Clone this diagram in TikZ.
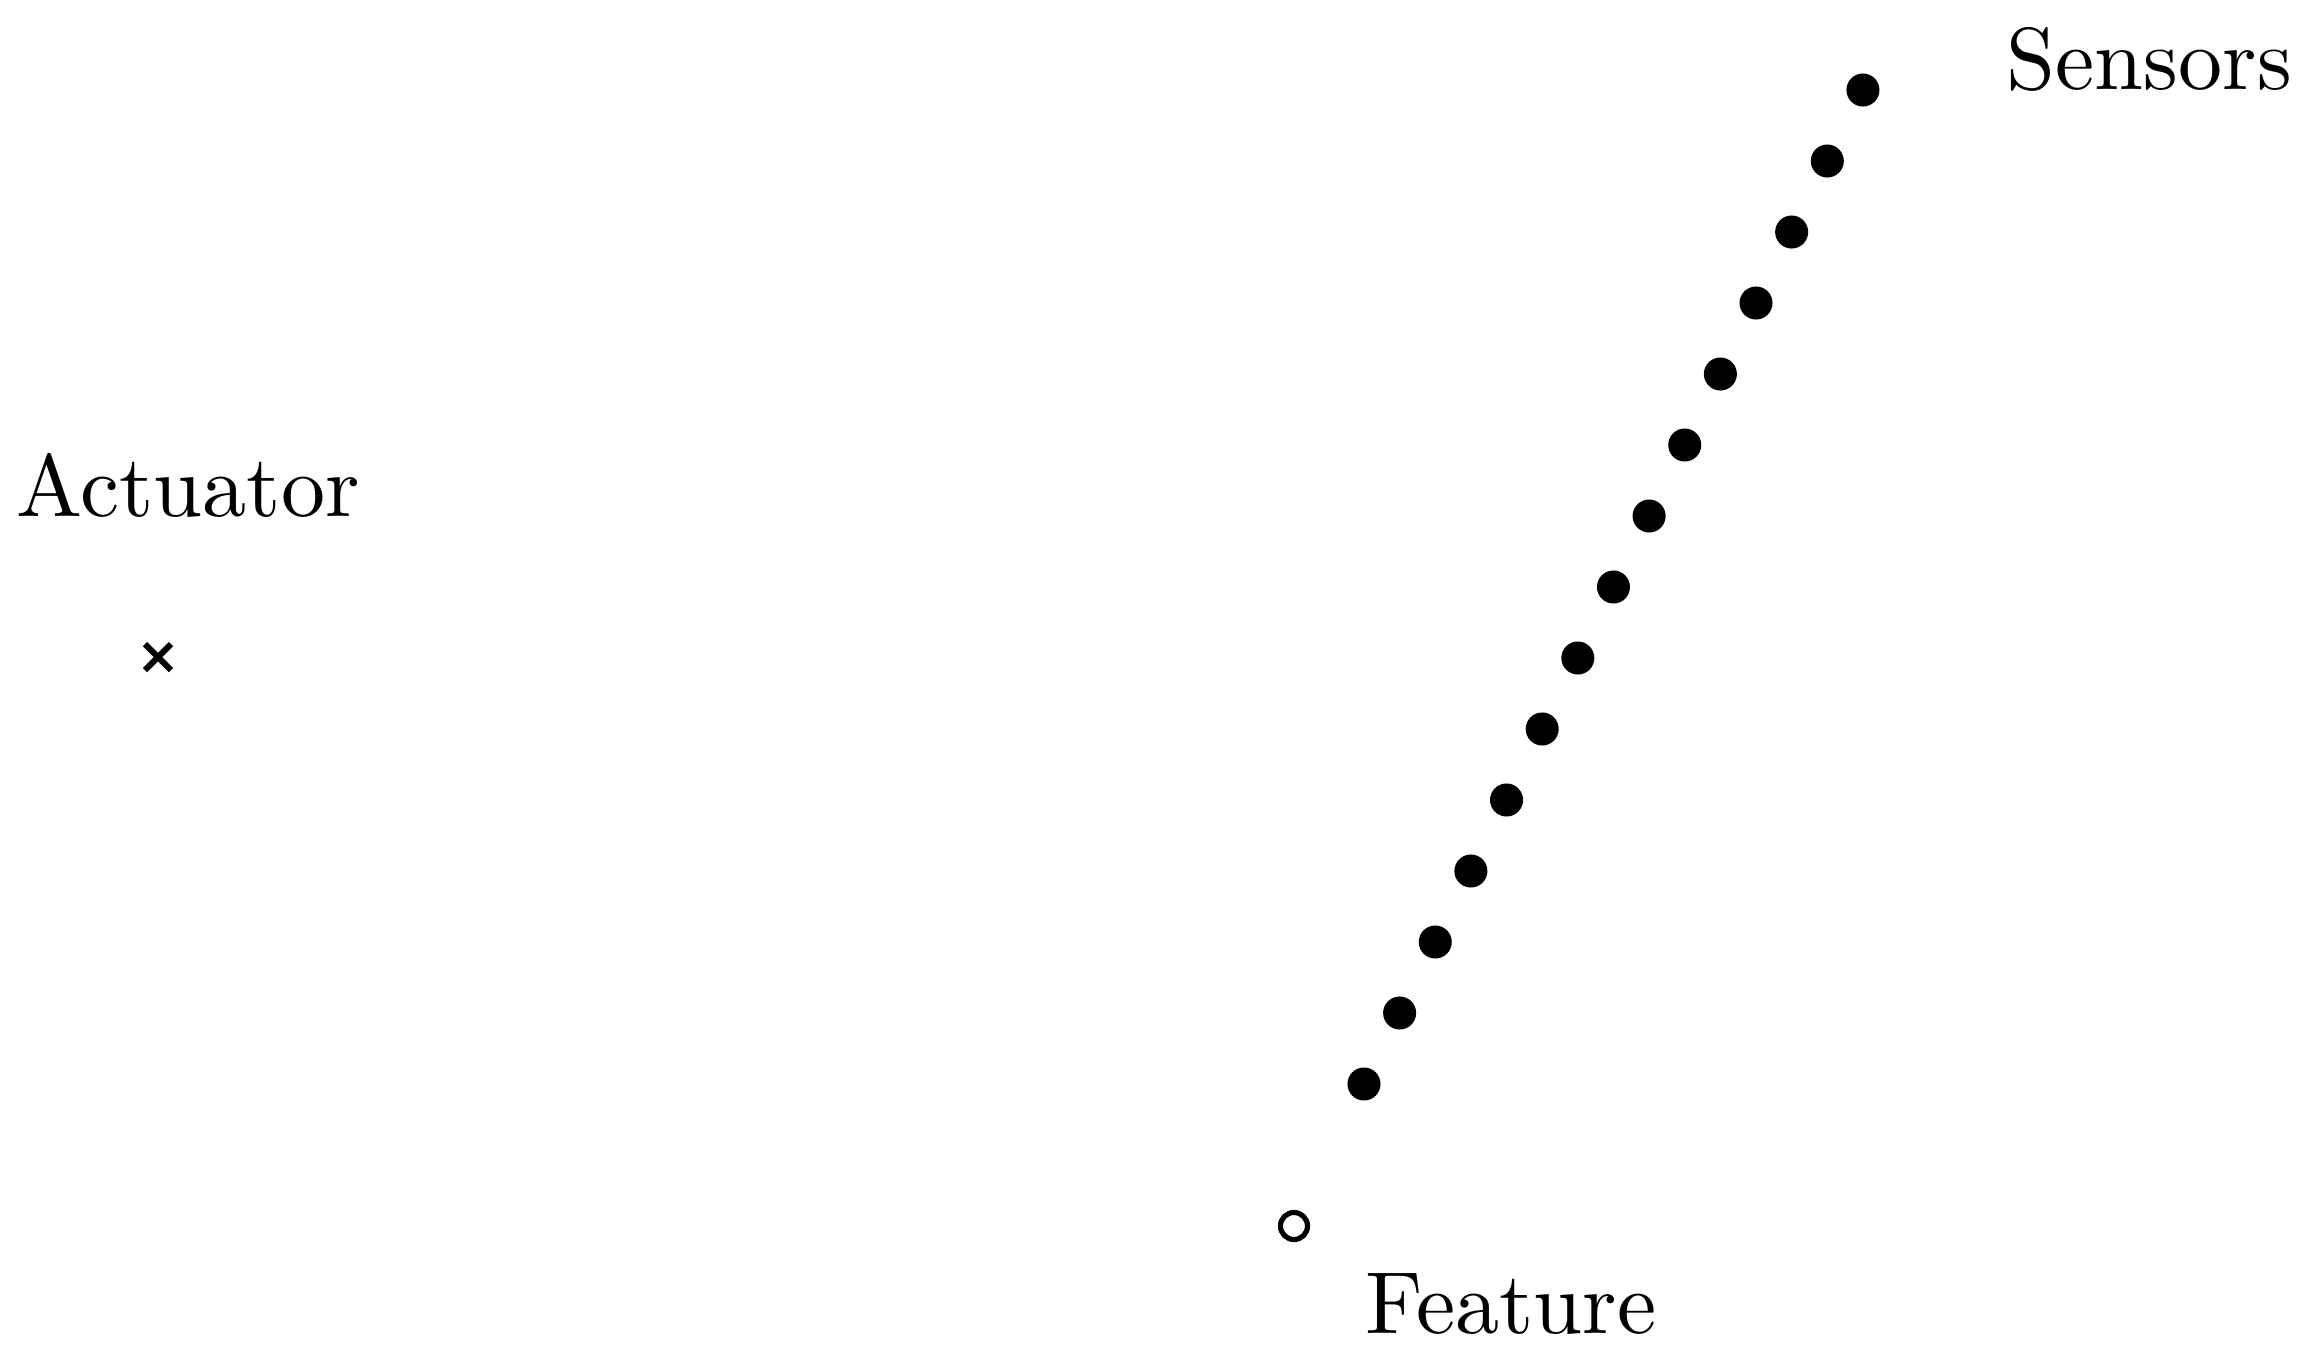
\documentclass[tikz,border=0pt]{standalone}
\usepackage{amsmath}
\usepackage{tikz}

\begin{document}
\begin{tikzpicture}[x=0.11655pt,y=-0.11655pt,
        sensor/.style={circle,fill,inner sep=0pt,minimum size=3.85pt},
        feat/.style={circle,draw,line width=0.6pt,inner sep=0pt,minimum size=3.15pt},
        lbl/.style={anchor=base west,inner sep=0pt,font=\fontsize{10.27}{12}\selectfont}]
            \useasboundingbox (0,0) rectangle (2313,1358);
            % actuator
            \node[lbl] (actlbl) at (15,516) {Actuator};
            \coordinate (act) at (158,657);
            \draw[line width=0.7pt] (act) ++(-13,-13) -- ++(26,26);
            \draw[line width=0.7pt] (act) ++(-13,13) -- ++(26,-26);
            % sensors
            \foreach \i in {0,...,14}
                \node[sensor] (s\i) at (1364+35.64*\i,1084-71*\i) {};
            \node[lbl] (senslbl) at (2005,89) {Sensors};
            % feature
            \node[feat] (feat) at (1294,1226) {};
            \node[lbl] (featlbl) at (1364,1333) {Feature};
        \end{tikzpicture}
\end{document}
